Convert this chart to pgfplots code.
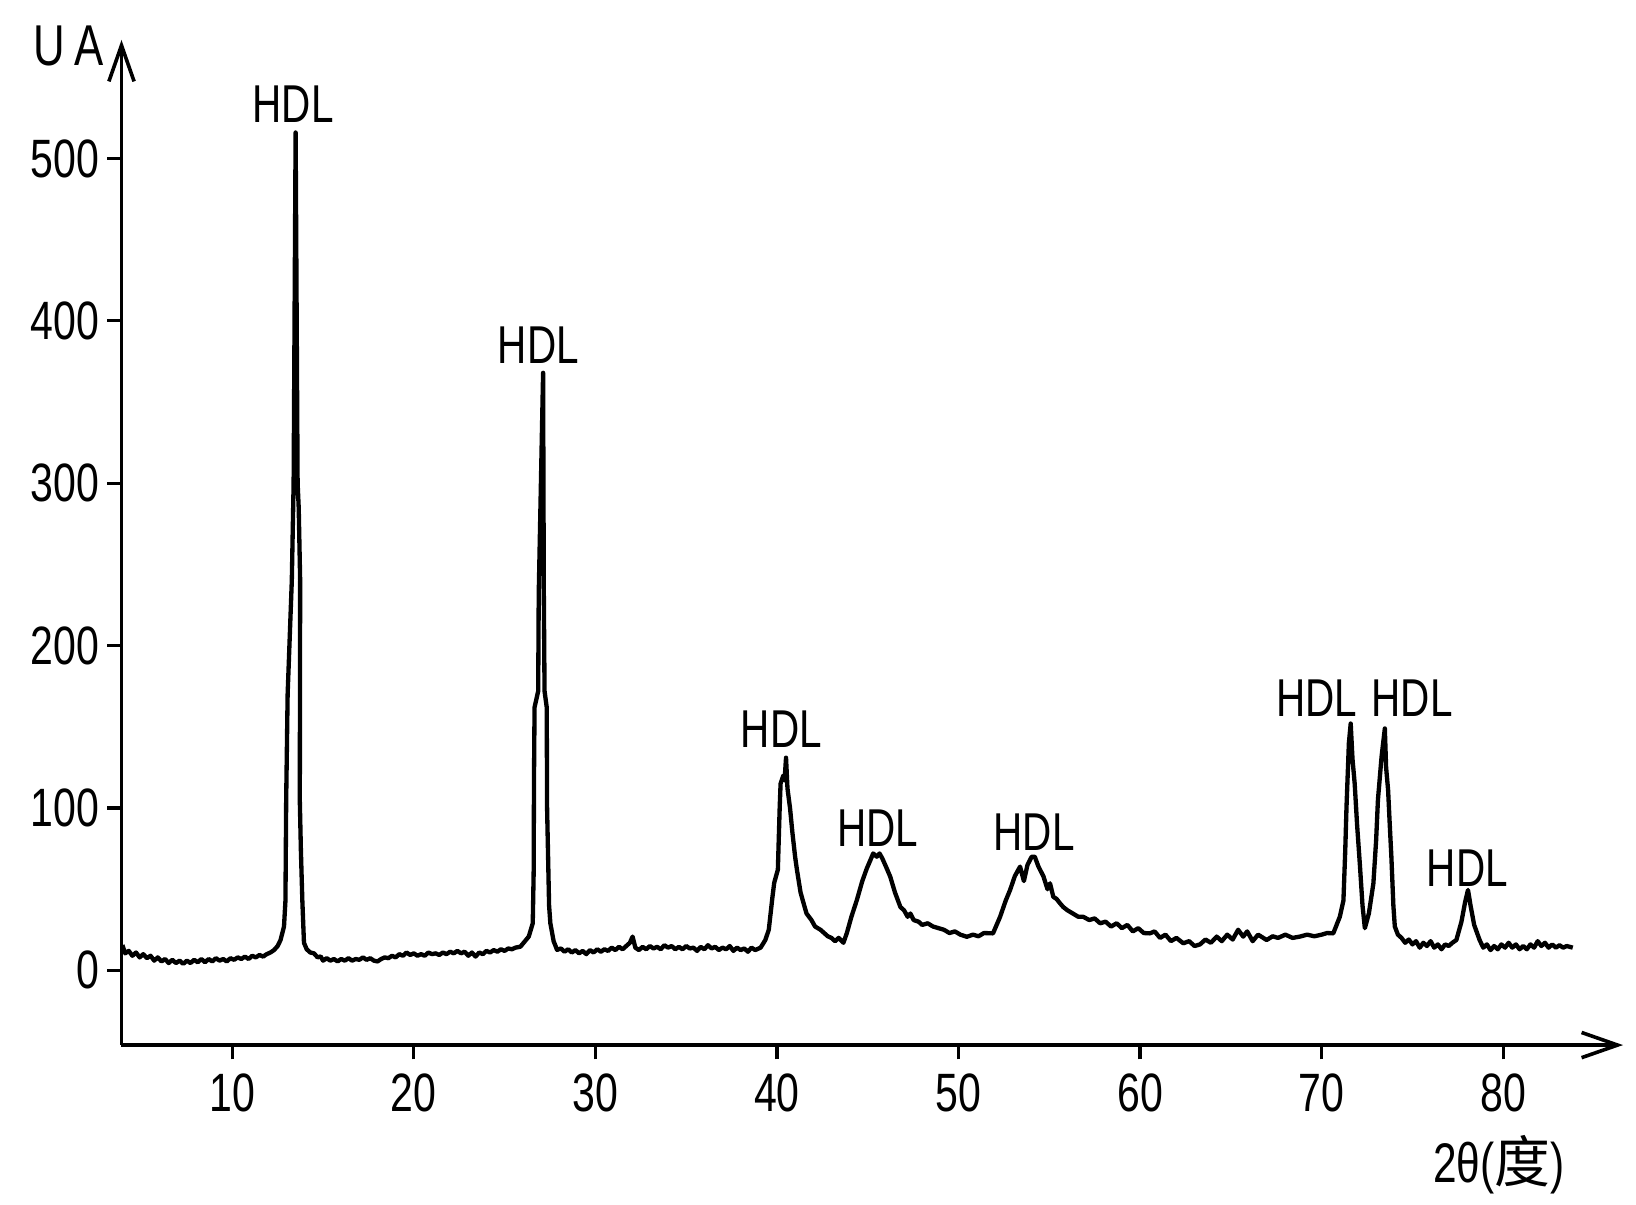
\documentclass[border=0pt]{standalone}
\usepackage{pgfplots}
\pgfplotsset{compat=1.18}
\usepackage{fontspec}
\setmainfont{Liberation Sans}[FakeStretch=0.76]
\newfontfamily\cjk{Noto Sans CJK SC}
\usetikzlibrary{arrows.meta}

\begin{document}
\begin{tikzpicture}
\begin{axis}[
  name=ax,
  scale only axis,
  width=417.1pt, height=279.2pt,
  xmin=3.9, xmax=86.6, ymin=-46, ymax=573,
  axis lines=left,
  axis line style={line width=1pt, -{Straight Barb[length=10pt,width=7pt,line width=1pt]}},
  xtick={10,20,...,80}, ytick={0,100,...,500},
  tick align=outside, major tick length=4pt,
  tick style={line width=0.9pt, black},
  ticklabel style={font=\fontsize{15}{16}\selectfont, inner sep=2pt},
  xticklabel style={yshift=-1.8pt},
  /pgf/number format/assume math mode=true,
  clip=false,
]
% diffractogram trace, values
\addplot[black, line width=1.2pt, line join=round] coordinates {
(3.95,15.6)(4.1,10.5)(4.3,12)(4.5,9)(4.7,11)(4.9,8)(5.1,10)(5.3,7.5)(5.5,9)(5.7,6)
(5.9,8)(6.1,5.5)(6.3,7)(6.5,4.5)(6.7,6.5)(6.9,4.5)(7.1,6)(7.3,4)(7.5,6)(7.7,4.5)
(7.9,6.5)(8.1,5)(8.3,7)(8.5,5)(8.7,7)(8.9,5.5)(9.1,7.5)(9.3,6)(9.5,7)(9.7,5.5)
(9.9,7.5)(10.1,6.5)(10.3,8)(10.5,7)(10.7,8.5)(10.9,7)(11.1,9)(11.3,8)(11.5,9.5)(11.7,8.5)
(11.9,10)(12.1,11)(12.3,12.5)(12.5,15)(12.66,18.7)(12.85,27)(12.93,43)(12.97,105)(13.05,170)
(13.28,240)(13.38,300)(13.49,516)(13.6,300)(13.66,285)(13.74,240)(13.72,105)(13.78,74)
(13.86,43)(13.95,17)(14.1,13)(14.3,11)(14.5,10.5)(14.7,8)(14.87,8.6)(15.0,6)(15.2,7.5)
(15.4,6)(15.6,7)(15.8,5.5)(16.0,7)(16.2,6)(16.4,7.5)(16.6,6)(16.8,7)(17.0,6.5)(17.2,8)
(17.4,6.5)(17.6,7.5)(17.8,6)(18.0,5.5)(18.2,7)(18.4,8)(18.6,7.5)(18.8,9)(19.0,8)(19.2,10)
(19.4,9)(19.6,11)(19.8,9.5)(20.0,10.5)(20.2,9)(20.4,10)(20.6,9)(20.8,11)(21.0,10)(21.2,10.5)
(21.4,9.5)(21.6,11)(21.8,10)(22.0,11.5)(22.2,10.5)(22.4,12)(22.6,10.5)(22.8,11.5)(23.0,9)
(23.2,11)(23.4,8.5)(23.6,11)(23.8,10)(24.0,12)(24.2,11)(24.4,12.5)(24.6,11.5)(24.8,13)
(25.0,12)(25.2,13.5)(25.4,13)(25.6,14)(25.87,14.6)(26.33,20.8)(26.55,29)(26.6,60)(26.62,120)
(26.65,162)(26.85,172)(26.88,232)(27.12,368)(27.16,232)(27.2,172)(27.32,162)(27.34,100)
(27.45,40)(27.52,29)(27.7,18)(27.89,12.6)(28.1,13.5)(28.3,11.5)(28.5,13)(28.7,11)(28.9,12.5)
(29.1,10.5)(29.3,12)(29.5,10)(29.7,12.5)(29.9,11)(30.1,13)(30.3,11.5)(30.5,13)(30.7,12)
(30.9,14)(31.1,12.5)(31.3,14.5)(31.5,13)(31.7,15)(31.9,17)(32.05,20.8)(32.2,14)(32.4,12.5)
(32.6,14.5)(32.8,13)(33.0,15)(33.2,13.5)(33.4,14.5)(33.6,13)(33.8,15.5)(34.0,14)(34.2,15)
(34.4,13)(34.6,14.5)(34.8,13)(35.0,15)(35.2,13.5)(35.4,14)(35.6,12)(35.8,14.5)(36.0,13)
(36.2,15.5)(36.4,13.5)(36.6,14.5)(36.8,12.5)(37.0,14)(37.2,13)(37.4,15)(37.6,12)(37.8,14)
(38.0,12.5)(38.2,13.5)(38.4,11.5)(38.6,14)(38.8,12.5)(39.0,13.5)(39.1,14)(39.36,18.7)
(39.55,25)(39.75,45)(39.85,54)(40.05,62)(40.15,100)(40.2,115)(40.35,120)(40.42,117)
(40.5,131)(40.58,112)(40.72,100)(40.85,85)(41.0,70)(41.1,62)(41.3,48)(41.5,40)(41.63,35)
(41.9,31)(42.1,27)(42.4,25)(42.6,23)(42.8,21)(43.0,20)(43.2,18)(43.4,20)(43.66,17)
(43.85,23)(44.1,33)(44.4,43.3)(44.7,55)(44.95,62.8)(45.15,68)(45.3,72)(45.5,70)(45.65,72)
(45.8,69)(46.0,64)(46.24,57.7)(46.5,48)(46.8,39)(47.0,37)(47.2,33)(47.35,35)(47.53,31)
(47.8,30)(48.0,28)(48.3,29)(48.6,27)(48.9,26)(49.2,25)(49.5,23)(49.8,24)(50.1,22)(50.46,20.7)
(50.8,22)(51.1,21)(51.4,23)(51.9,22.8)(52.29,33)(52.6,43)(52.84,49.5)(53.1,58)(53.39,63.9)
(53.6,55)(53.8,65)(54.03,70)(54.2,70)(54.4,64)(54.68,57.8)(54.9,50)(55.04,53.6)(55.22,45.3)
(55.4,44)(55.59,41.3)(55.77,39)(56.0,37)(56.3,35)(56.6,33)(56.87,33)(57.2,31)(57.5,32)
(57.8,29)(58.1,30)(58.4,27)(58.71,29)(59.0,26)(59.3,28)(59.6,24)(59.9,26)(60.2,23)(60.54,22.8)
(60.8,24)(61.1,20)(61.4,22)(61.7,18)(62.0,20)(62.38,16.7)(62.7,18)(63.0,15)(63.3,16)(63.6,19)
(63.9,17)(64.22,20.8)(64.5,18)(64.8,22)(65.1,19)(65.4,25)(65.68,20.8)(65.9,24)(66.2,18)
(66.5,22)(66.97,18.7)(67.3,21)(67.6,20)(68.0,22)(68.4,20)(68.8,20.8)(69.2,22)(69.6,21)
(70.0,22)(70.3,23)(70.64,22.8)(71.0,33)(71.2,43)(71.3,74)(71.37,101)(71.5,140)(71.6,152)
(71.7,130)(71.82,115)(71.95,90)(72.1,66)(72.25,40)(72.38,26)(72.6,35)(72.85,53.6)(73.0,80)
(73.1,105)(73.3,131.6)(73.48,149)(73.55,125)(73.66,111)(73.75,90)(73.84,70)(73.95,40)
(74.03,27)(74.2,22)(74.4,20)(74.6,17)(74.8,19)(75.0,16)(75.2,18)(75.4,14)(75.6,17)(75.8,15)
(76.0,18)(76.2,14)(76.4,16)(76.6,13)(76.8,16)(77.0,15)(77.2,17)(77.42,18.7)(77.7,30)(77.9,42)
(78.06,49.5)(78.2,40)(78.4,28)(78.7,18.7)(78.9,14)(79.1,16)(79.3,12.5)(79.5,15)(79.7,13)
(79.9,16)(80.1,14)(80.3,17)(80.5,14)(80.7,16)(80.9,13)(81.1,15)(81.3,13)(81.5,16)(81.7,14)
(81.9,18)(82.1,15)(82.3,17)(82.5,14)(82.7,16)(82.9,14)(83.1,15.5)(83.3,14)(83.5,15)(83.83,14)
};
\begin{scope}[every node/.style={font=\fontsize{14.8}{16}\selectfont, inner sep=0pt}]
\node at (axis cs:13.35,533.6) {HDL};
\node at (axis cs:26.86,385) {HDL};
\node at (axis cs:40.24,148.8) {HDL};
\node at (axis cs:45.55,87.7) {HDL};
\node at (axis cs:54.16,85.2) {HDL};
\node at (axis cs:69.72,167.8) {HDL};
\node at (axis cs:74.98,167.8) {HDL};
\node at (axis cs:78.02,62.7) {HDL};
\end{scope}
\node[font=\fontsize{16}{18}\selectfont, inner sep=0pt] at (axis cs:1.0,569.3) {U\hspace{2.5pt}A};
\node[font=\fontsize{15.5}{18}\selectfont, inner sep=0pt] at (axis cs:79.75,-119.9) {2θ({\cjk 度})};
\end{axis}
\pgfresetboundingbox
\path[use as bounding box] ([shift={(-33.75pt,-44.4pt)}]ax.south west) rectangle ([shift={(3.6pt,11.1pt)}]ax.north east);
\end{tikzpicture}
\end{document}
